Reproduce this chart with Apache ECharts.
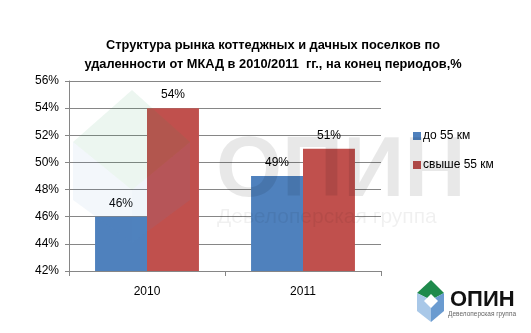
<!DOCTYPE html>
<html><head><meta charset="utf-8">
<script src="https://cdn.jsdelivr.net/npm/echarts@6/dist/echarts.min.js"></script>
<style>html,body{margin:0;padding:0;background:#fff}#c{width:531px;height:333px}</style>
</head><body><div id="c"></div>
<script>
const categories = ['2010', '2011'];
const seriesNames = ['до 55 км', 'свыше 55 км'];
const near = [46, 49];
const far = [54, 51];
const yTicks = [42, 44, 46, 48, 50, 52, 54, 56];

const chart = echarts.init(document.getElementById('c'), null, {renderer: 'canvas'});
const font = 'Liberation Sans, Arial, sans-serif';
const lbl = {show: true, position: 'top', distance: 7, formatter: p => p.value + '%', color: '#000', fontSize: 12, fontFamily: font};
chart.setOption({
  animation: false,
  title: {
    text: 'Структура рынка коттеджных и дачных поселков по\nудаленности от МКАД в 2010/2011  гг., на конец периодов,%',
    left: 268, top: 31, textAlign: 'center',
    textStyle: {fontSize: 12.8, fontWeight: 'bold', fontFamily: font, color: '#000', lineHeight: 19}
  },
  legend: {
    orient: 'vertical', left: 408, top: 125, itemGap: 17,
    itemWidth: 8, itemHeight: 8, icon: 'rect',
    textStyle: {fontSize: 12, fontFamily: font, color: '#000', padding: [0,0,0,-3]},
    data: seriesNames
  },
  grid: {left: 69, top: 81, width: 312, height: 190, containLabel: false},
  xAxis: {
    type: 'category', data: categories,
    axisLine: {lineStyle: {color: '#868686'}},
    axisTick: {show: true, length: 5, lineStyle: {color: '#868686'}},
    axisLabel: {color: '#000', fontSize: 12, fontFamily: font, margin: 15}
  },
  yAxis: {
    type: 'value', min: yTicks[0], max: yTicks[yTicks.length-1], interval: 2,
    axisLine: {show: true, lineStyle: {color: '#868686'}},
    axisTick: {show: true, length: 4, lineStyle: {color: '#868686'}},
    splitLine: {lineStyle: {color: '#868686'}},
    axisLabel: {color: '#000', fontSize: 12, fontFamily: font, margin: 10, formatter: v => v + '%'}
  },
  color: ['#4F81BD', '#C0504D'],
  series: [
    {name: seriesNames[0], type: 'bar', data: near, barWidth: '33.3%', barGap: '0%', label: lbl},
    {name: seriesNames[1], type: 'bar', data: far, barWidth: '33.3%', barGap: '0%', label: lbl}
  ],
  graphic: [
    {type: 'polygon', z: 100, silent: true, shape: {points: [[132,90],[190,142],[132,190],[73,142]]}, style: {fill: 'rgba(40,160,90,0.09)'}},
    {type: 'polygon', z: 100, silent: true, shape: {points: [[73,142],[132,190],[132,243],[73,200]]}, style: {fill: 'rgba(90,140,200,0.07)'}},
    {type: 'polygon', z: 100, silent: true, shape: {points: [[190,142],[132,190],[132,243],[190,200]]}, style: {fill: 'rgba(90,140,200,0.09)'}},
    {type: 'text', z: 100, silent: true, left: 216, top: 130, style: {text: 'ОПИН', font: 'bold 85px Liberation Sans, Arial, sans-serif', fill: 'rgba(0,0,0,0.09)'}},
    {type: 'text', z: 100, silent: true, left: 217, top: 207, style: {text: 'Девелоперская группа', font: '21px Liberation Sans, Arial, sans-serif', fill: 'rgba(0,0,0,0.06)'}},
    {type: 'polygon', shape: {points: [[431,280],[444,293],[431,300],[417,293]]}, style: {fill: '#1f8a4c'}},
    {type: 'polygon', shape: {points: [[417,293],[431,300],[431,322],[417,311]]}, style: {fill: '#a9c8e8'}},
    {type: 'polygon', shape: {points: [[444,293],[431,300],[431,322],[444,311]]}, style: {fill: '#6a9bd0'}},
    {type: 'polygon', shape: {points: [[431,294],[438,301],[431,308],[424,301]]}, style: {fill: '#fff'}},
    {type: 'text', left: 450, top: 289, style: {text: 'ОПИН', font: 'bold 22px Liberation Sans, Arial, sans-serif', fill: '#111'}},
    {type: 'text', left: 448, top: 311, style: {text: 'Девелоперская группа', font: '6.5px Liberation Sans, Arial, sans-serif', fill: '#666'}}
  ]
});
</script></body></html>
